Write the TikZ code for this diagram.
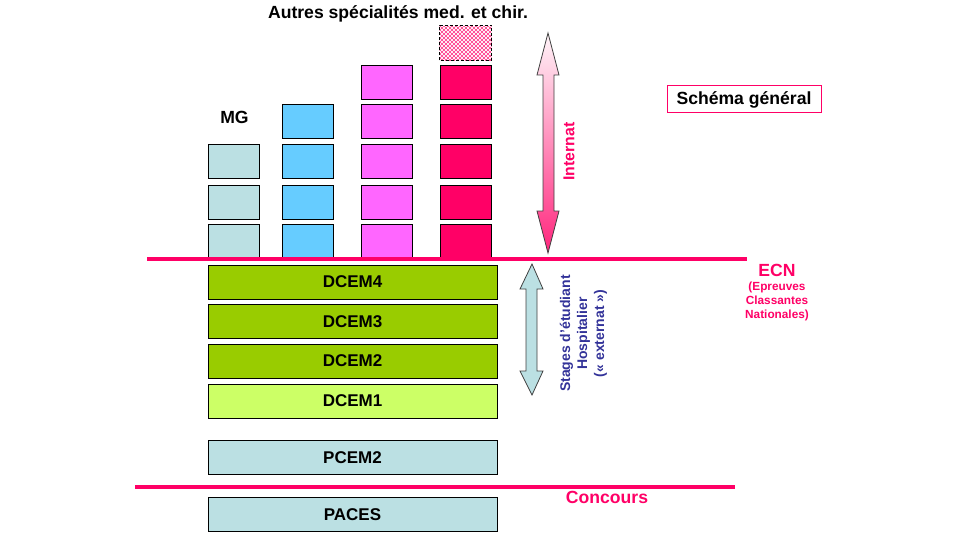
\documentclass[tikz,border=0pt]{standalone}
\usepackage{fontspec}
\setmainfont{Liberation Sans}
\definecolor{ecnpink}{HTML}{FF0066}
\definecolor{mgteal}{HTML}{BBE0E3}
\definecolor{skyblue}{HTML}{66CCFF}
\definecolor{magen}{HTML}{FF66FF}
\definecolor{dgreen}{HTML}{99CC00}
\definecolor{lgreen}{HTML}{CCFF66}
\definecolor{navy}{HTML}{333399}
\tikzset{
  sq/.style={draw=black, line width=1pt, minimum width=51, minimum height=34, inner sep=0pt},
  bar/.style={draw=black, line width=1pt, minimum width=289, minimum height=34, inner sep=0pt,
    font=\fontsize{17}{20}\selectfont\bfseries},
  sep/.style={draw=ecnpink, line width=4pt},
  big/.style={font=\fontsize{17.6}{20}\selectfont\bfseries},
}
\begin{document}
\begin{tikzpicture}[x=1pt,y=-1pt]
\useasboundingbox (0,0) rectangle (960,540);
% MG column
\foreach \r/\y in {1/241.5,2/202,3/162}{\node[sq, fill=mgteal] (mg\r) at (233.5,\y) {};}
% column 2
\foreach \r/\y in {1/241.5,2/202,3/162,4/122}{\node[sq, fill=skyblue] (cb\r) at (307.5,\y) {};}
% column 3
\foreach \r/\y in {1/241.5,2/202,3/162,4/122,5/82.5}{\node[sq, fill=magen] (cm\r) at (386.5,\y) {};}
% column 4
\foreach \r/\y in {1/241.5,2/202,3/162,4/122,5/83}{\node[sq, fill=ecnpink] (cp\r) at (465.5,\y) {};}
% hatched box
\node[sq, draw=none, minimum height=34] (cp6) at (465.5,43) {};
\begin{scope}
  \clip (cp6.south west) rectangle (cp6.north east);
  \foreach \i in {-60,-56,...,100}{
    \draw[ecnpink!80, line width=0.5pt] (440+\i,26) -- ++(40,40);
    \draw[ecnpink!80, line width=0.5pt] (440+\i,66) -- ++(40,-40);
  }
\end{scope}
\draw[black, line width=0.8pt, dash pattern=on 3pt off 2pt] (cp6.south west) rectangle (cp6.north east);
% bars
\node[bar, fill=dgreen] (d4) at (352.5,282) {DCEM4};
\node[bar, fill=dgreen] (d3) at (352.5,321.5) {DCEM3};
\node[bar, fill=dgreen] (d2) at (352.5,361) {DCEM2};
\node[bar, fill=lgreen] (d1) at (352.5,401) {DCEM1};
\node[bar, fill=mgteal] (p2) at (352.5,457.5) {PCEM2};
\node[bar, fill=mgteal] (pa) at (352.5,514.5) {PACES};
% separator lines
\coordinate (ecnA) at (147,259);
\coordinate (ecnB) at (747,259);
\draw[sep] (ecnA) -- (ecnB);
\coordinate (conA) at (135,487);
\coordinate (conB) at (735,487);
\draw[sep] (conA) -- (conB);
% Internat arrow
\shade[top color=ecnpink!4, bottom color=ecnpink!85!white, draw=black!75, line width=0.8pt]
  (548,33) -- (559,75) -- (554,75) -- (554,211) -- (559,211) -- (548,253)
  -- (537,211) -- (543,211) -- (543,75) -- (537,75) -- cycle;
\node[rotate=90, text=ecnpink, font=\fontsize{15.8}{18}\selectfont\bfseries] (internat) at (569,151.5) {Internat};
% Stages arrow
\filldraw[fill=mgteal, draw=black!75, line width=0.8pt]
  (532,264) -- (543,289) -- (537,289) -- (537,371) -- (543,371) -- (532,395)
  -- (520,371) -- (526,371) -- (526,289) -- (520,289) -- cycle;
\node[rotate=90, text=navy, align=center, font=\fontsize{14}{17}\selectfont\bfseries] (stages) at (583.5,333.5)
  {Stages d'étudiant\\Hospitalier\\(« externat »)};
% labels
\node[big] (autres) at (398,14) {Autres spécialités med. et chir.};
\node[big] (mg) at (234.5,117) {MG};
\node[big, draw=ecnpink, line width=1pt, minimum width=154, minimum height=27, inner sep=0pt] (schema) at (744,99.5) {Schéma général};
\node[big, text=ecnpink] (ecn) at (777,270) {ECN};
\node[text=ecnpink, align=center, font=\fontsize{11.8}{14}\selectfont\bfseries] (ecnsub) at (777,301) {(Epreuves\\Classantes\\Nationales)};
\node[big, text=ecnpink] (concours) at (607,497) {Concours};
\end{tikzpicture}
\end{document}
